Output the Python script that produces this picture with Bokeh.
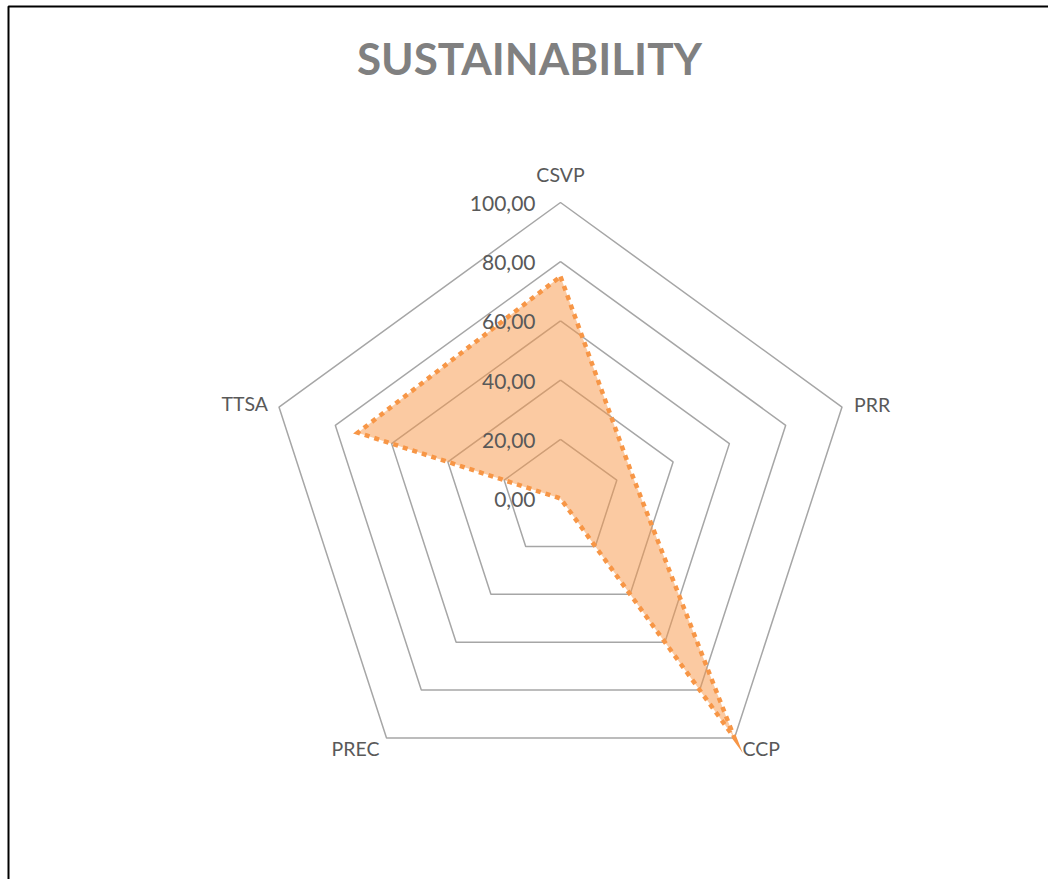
import math
from bokeh.plotting import figure
from bokeh.models import Range1d
from bokeh.core.properties import value
from bokeh.embed import file_html
from bokeh.resources import INLINE

# ---- data ----
categories = ["CSVP", "PRR", "CCP", "PREC", "TTSA"]
scores = [75.0, 25.5, 100.0, 0.0, 72.0]
ring_values = [20, 40, 60, 80, 100]
tick_values = [0, 20, 40, 60, 80, 100]
tick_labels = ["0,00", "20,00", "40,00", "60,00", "80,00", "100,00"]
title_text = "SUSTAINABILITY"

# ---- layout (pixels per data unit) ----
W, H = 1048, 879
S = 2.96            # pixels per unit of value
CX, CY = 560, 498   # radar centre in screen pixels

p = figure(width=W, height=H, output_backend="svg", toolbar_location=None,
           x_range=Range1d(-CX / S, (W - CX) / S),
           y_range=Range1d(-(H - CY) / S, CY / S),
           x_axis_location=None, y_axis_location=None, min_border=0)
p.grid.visible = False
p.outline_line_color = None
p.background_fill_color = "white"
p.border_fill_color = "white"

n = len(categories)
angles = [math.radians(90 - 360.0 * k / n) for k in range(n)]

# rings
for rv in ring_values:
    xs = [rv * math.cos(a) for a in angles] + [rv * math.cos(angles[0])]
    ys = [rv * math.sin(a) for a in angles] + [rv * math.sin(angles[0])]
    p.line(xs, ys, line_color="#A6A6A6", line_width=1.5)

# data polygon
dx = [v * math.cos(a) for v, a in zip(scores, angles)]
dy = [v * math.sin(a) for v, a in zip(scores, angles)]
p.patch(dx, dy, fill_color="#F79646", fill_alpha=0.5, line_color=None)
p.line(dx + [dx[0]], dy + [dy[0]], line_color="#F79646", line_width=4.5,
       line_dash="5 5", line_cap="butt", line_join="miter")

# tick labels along the first axis
p.text(x=[0] * len(tick_values), y=tick_values, text=tick_labels,
       text_font=value("Lato"), text_font_size="21px", text_color="#595959",
       text_align="right", text_baseline="middle", x_offset=-25, y_offset=1)

# category labels
label_style = [
    # align, baseline, x_off, y_off
    ("center", "middle", 0, -28),
    ("left", "middle", 12, -3),
    ("left", "middle", 8, 11),
    ("right", "middle", -7, 11),
    ("right", "middle", -11, -4),
]
for cat, a, (al, bl, xo, yo) in zip(categories, angles, label_style):
    p.text(x=[100 * math.cos(a)], y=[100 * math.sin(a)], text=[cat],
           text_font=value("Lato"), text_font_size="19.5px", text_color="#595959",
           text_align=al, text_baseline=bl, x_offset=xo, y_offset=yo)

# title
p.text(x=[(529 - CX) / S], y=[(CY - 57) / S], text=[title_text],
       text_font=value("Lato"), text_font_size="44px", text_font_style="bold",
       text_color="#808080", text_align="center", text_baseline="middle")

# chart frame (left and top edges visible)
fx = [(8 - CX) / S, (8 - CX) / S, (W + 10 - CX) / S]
fy = [-(H + 10 - CY) / S, (CY - 6) / S, (CY - 6) / S]
p.line(fx, fy, line_color="black", line_width=2)

open("out.html", "w").write(file_html(p, INLINE))
